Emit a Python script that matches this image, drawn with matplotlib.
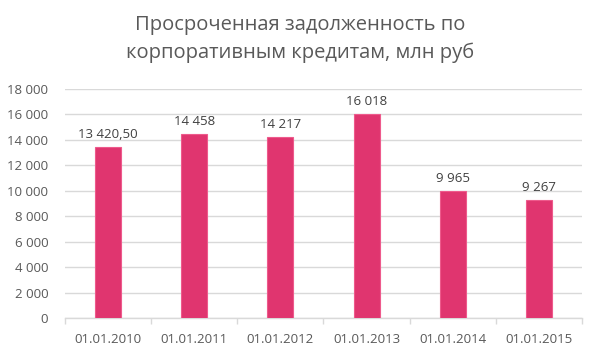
import matplotlib
matplotlib.use("Agg")
import matplotlib.pyplot as plt
from matplotlib.ticker import FuncFormatter

categories = ["01.01.2010", "01.01.2011", "01.01.2012", "01.01.2013", "01.01.2014", "01.01.2015"]
values = [13420.50, 14458, 14217, 16018, 9965, 9267]
labels = ["13 420,50", "14 458", "14 217", "16 018", "9 965", "9 267"]
title = "Просроченная задолженность по\nкорпоративным кредитам, млн руб"

plt.rcParams['font.family'] = ['Open Sans', 'DejaVu Sans']
grey = "#595959"

fig = plt.figure(figsize=(6.0, 3.57), dpi=100)
ax = fig.add_axes([65/600, 1 - 318/357, (582-65)/600, (318-89)/357])

x = list(range(len(categories)))
bars = ax.bar(x, values, width=0.3, color="#E0356F", edgecolor="#EE5A8C", linewidth=0.8, zorder=3)
for xi, v, lab in zip(x, values, labels):
    ax.text(xi, v + 500, lab, ha="center", va="bottom", fontsize=9.5, color="#404040")

ax.set_xlim(-0.5, len(categories) - 0.5)
ax.set_ylim(0, 18000)
ax.set_yticks(range(0, 18001, 2000))
ax.yaxis.set_major_formatter(FuncFormatter(lambda v, p: f"{int(v):,}".replace(",", " ")))
ax.grid(axis="y", color="#D9D9D9", linewidth=1, zorder=0)
ax.set_xticks(x)
ax.set_xticklabels(categories)
ax.set_xticks([i - 0.5 for i in range(len(categories) + 1)], minor=True)
ax.tick_params(axis="x", which="major", length=0, pad=11, labelsize=9.5, labelcolor=grey)
ax.tick_params(axis="x", which="minor", length=4, color="#D9D9D9", width=1)
ax.tick_params(axis="y", length=0, pad=12, labelsize=9.5, labelcolor=grey)
for s in ["top", "right", "left"]:
    ax.spines[s].set_visible(False)
ax.spines["bottom"].set_color("#D9D9D9")
ax.spines["bottom"].set_linewidth(1)

fig.text(0.5, 1 - 15/357, title, ha="center", va="top", fontsize=14.5, color=grey, linespacing=1.5)

fig.savefig("out.png", dpi=100)
